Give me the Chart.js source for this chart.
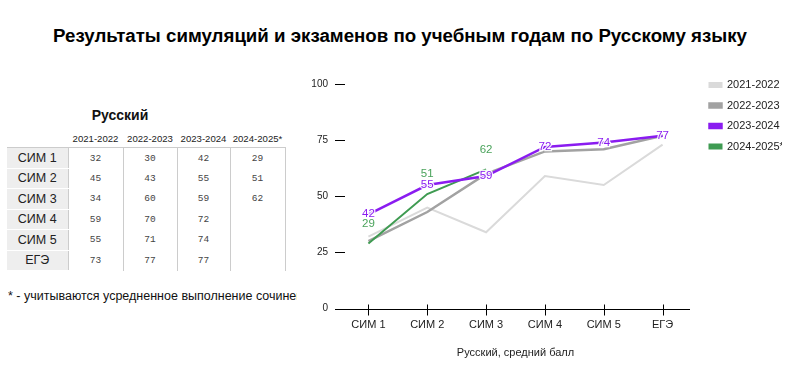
<!DOCTYPE html>
<html>
<head>
<meta charset="utf-8">
<script src="https://cdn.jsdelivr.net/npm/chart.js@4/dist/chart.umd.min.js"></script>
<style>
  body { margin: 0; background: #fff; font-family: "Liberation Sans", Arial, sans-serif; }
  #wrap { position: relative; width: 800px; height: 390px; overflow: hidden; }
  #title { position: absolute; left: 0; top: 25px; width: 800px; text-align: center; font-weight: bold; font-size: 18.7px; color: #000; }
  #subj { position: absolute; left: 60px; top: 107px; width: 120px; text-align: center; font-weight: bold; font-size: 14px; color: #111; }
  #tbl { position: absolute; left: 7px; top: 129px; border-collapse: collapse; table-layout: fixed; }
  #tbl td { padding: 0; text-align: center; height: 19.5px; color: #444; font-family: "Liberation Mono", monospace; font-size: 9.5px; border-left: 1px solid #ccc; }
  #tbl tr.head td { height: 18px; font-family: "Liberation Sans", Arial, sans-serif; font-size: 9.6px; color: #222; border: none; }
  #tbl tr.first td { border-top: 1px solid #ccc; }
  #tbl tr.head td.lab { background: none; }
  #tbl td.lab { background: #eeeeee; font-family: "Liberation Sans", Arial, sans-serif; font-size: 12.5px; color: #222; border-left: none; border-bottom: 1px solid #fff; }
  #tbl td.last { border-right: 1px solid #ccc; }
  #tbl tr.head td.last { border-right: none; }
  #note { position: absolute; left: 8px; top: 289px; width: 289px; white-space: nowrap; overflow: hidden; font-size: 12.5px; color: #111; }
  #box { position: absolute; left: 290px; top: 62px; width: 510px; height: 302px; }
</style>
</head>
<body>
<div id="wrap">
  <div id="title">Результаты симуляций и экзаменов по учебным годам по Русскому языку</div>
  <div id="subj">Русский</div>
  <table id="tbl"></table>
  <div id="note">* - учитываются усредненное выполнение сочинения</div>
  <div id="box"><canvas id="chart"></canvas></div>
</div>
<script>
const categories = ['СИМ 1', 'СИМ 2', 'СИМ 3', 'СИМ 4', 'СИМ 5', 'ЕГЭ'];
const years = ['2021-2022', '2022-2023', '2023-2024', '2024-2025*'];
const y2122 = [32, 45, 34, 59, 55, 73];
const y2223 = [30, 43, 60, 70, 71, 77];
const y2324 = [42, 55, 59, 72, 74, 77];
const y2425 = [29, 51, 62, null, null, null];
const yTicks = [0, 25, 50, 75, 100];
const axisTitle = 'Русский, средний балл';

var FONT = '"Liberation Sans", Arial, sans-serif';

// table on the left, built from the same arrays
var cols = [y2122, y2223, y2324, y2425];
var widths = [61, 55, 54, 53, 55];
var tbl = document.getElementById('tbl');
var html = '<colgroup>';
for (var w = 0; w < widths.length; w++) html += '<col style="width:' + widths[w] + 'px">';
html += '</colgroup><tr class="head"><td class="lab"></td>';
for (var k = 0; k < years.length; k++) html += '<td' + (k == years.length - 1 ? ' class="last"' : '') + '>' + years[k] + '</td>';
html += '</tr>';
for (var i = 0; i < categories.length; i++) {
  html += '<tr' + (i == 0 ? ' class="first"' : '') + '><td class="lab">' + categories[i] + '</td>';
  for (var j = 0; j < cols.length; j++) {
    var v = cols[j][i];
    html += '<td' + (j == cols.length - 1 ? ' class="last"' : '') + '>' + (v == null ? '' : v) + '</td>';
  }
  html += '</tr>';
}
tbl.innerHTML = html;

// value labels next to points
const pointLabels = {
  id: 'pointLabels',
  afterDatasetsDraw(chart) {
    var ctx = chart.ctx;
    chart.data.datasets.forEach(function (ds, di) {
      if (!ds.showValues) return;
      var meta = chart.getDatasetMeta(di);
      ctx.save();
      ctx.font = '11.5px ' + FONT;
      ctx.textAlign = 'center';
      ctx.textBaseline = 'middle';
      meta.data.forEach(function (pt, i) {
        var v = ds.data[i];
        if (v == null) return;
        var y = pt.y + ds.valueOffset;
        if (ds.valueHalo) {
          ctx.strokeStyle = 'rgba(255,255,255,0.9)';
          ctx.lineWidth = 2.5;
          ctx.strokeText(String(v), pt.x, y);
        }
        ctx.fillStyle = ds.valueColor;
        ctx.fillText(String(v), pt.x, y);
      });
      ctx.restore();
    });
  }
};

// axis line at 0 plus tick marks, drawn from the scales
const axisMarks = {
  id: 'axisMarks',
  afterDraw(chart) {
    var ctx = chart.ctx, x = chart.scales.x, y = chart.scales.y, a = chart.chartArea;
    var y0 = Math.round(y.getPixelForValue(0)) + 0.5;
    ctx.save();
    ctx.strokeStyle = '#000';
    ctx.lineWidth = 1;
    ctx.beginPath();
    ctx.moveTo(a.left - 4, y0);
    ctx.lineTo(a.right - 2, y0);
    yTicks.forEach(function (t) {
      var py = Math.round(y.getPixelForValue(t)) + 0.5;
      ctx.moveTo(a.left - 4, py);
      ctx.lineTo(a.left + 6, py);
    });
    for (var i = 0; i < categories.length; i++) {
      var px = Math.round(x.getPixelForTick(i)) + 0.5;
      ctx.moveTo(px, y0 - 5);
      ctx.lineTo(px, y0 + 6);
    }
    ctx.stroke();
    ctx.restore();
  }
};

new Chart(document.getElementById('chart'), {
  type: 'line',
  data: {
    labels: categories,
    datasets: [
      { label: years[0], data: y2122, borderColor: '#dadada', backgroundColor: '#dadada', borderWidth: 2, order: 4 },
      { label: years[1], data: y2223, borderColor: '#a2a2a2', backgroundColor: '#a2a2a2', borderWidth: 2.5, order: 3 },
      { label: years[2], data: y2324, borderColor: '#8a1cf0', backgroundColor: '#8a1cf0', borderWidth: 2.5, order: 1,
        showValues: true, valueOffset: 0, valueColor: '#8a1cf0', valueHalo: true },
      { label: years[3], data: y2425, borderColor: '#3f9b52', backgroundColor: '#3f9b52', borderWidth: 2, order: 2,
        showValues: true, valueOffset: -20, valueColor: '#4aa35b', valueHalo: false }
    ]
  },
  options: {
    responsive: true,
    maintainAspectRatio: false,
    animation: false,
    layout: { padding: { top: 8, right: 18, left: 0, bottom: 0 } },
    elements: {
      point: { radius: 0, hoverRadius: 0 },
      line: { tension: 0 }
    },
    plugins: {
      legend: {
        position: 'right',
        align: 'start',
        labels: {
          boxWidth: 12,
          boxHeight: 4,
          padding: 9.5,
          color: '#222',
          font: { size: 11, family: FONT },
          sort: function (a, b) { return a.datasetIndex - b.datasetIndex; }
        }
      },
      tooltip: { enabled: false }
    },
    scales: {
      x: {
        offset: true,
        border: { display: false },
        grid: { display: false, drawTicks: false },
        ticks: { color: '#222', padding: 10, font: { size: 11, family: FONT } },
        title: { display: true, text: axisTitle, color: '#222', padding: { top: 5 }, font: { size: 11, family: FONT } }
      },
      // spacers: keep the plot below the legend top and left of the legend
      xTop: {
        position: 'top', display: true, labels: categories,
        border: { display: false }, grid: { display: false, drawTicks: false }, ticks: { display: false },
        afterFit: function (s) { s.height = 14; }
      },
      yRight: {
        position: 'right', display: true, min: 0, max: 100,
        border: { display: false }, grid: { display: false, drawTicks: false }, ticks: { display: false },
        afterFit: function (s) { s.width = 8; }
      },
      y: {
        min: 0,
        max: 100,
        afterBuildTicks: function (s) { s.ticks = yTicks.map(function (v) { return { value: v }; }); },
        afterFit: function (s) { s.width = 49; },
        border: { display: false },
        grid: { display: false, drawTicks: false },
        ticks: { color: '#222', padding: 11, font: { size: 10, family: FONT } }
      }
    }
  },
  plugins: [pointLabels, axisMarks]
});
</script>
</body>
</html>
